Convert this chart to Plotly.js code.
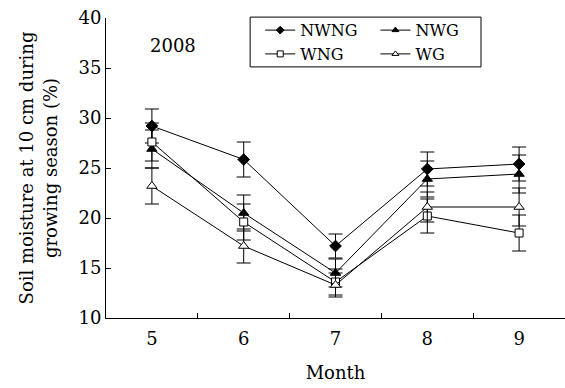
<!DOCTYPE html>
<html>
<head>
<meta charset="utf-8">
<script src="https://cdn.plot.ly/plotly-3.0.1.min.js"></script>
<style>html,body{margin:0;padding:0;background:#fff;}#chart{width:565px;height:388px;}</style>
</head>
<body>
<div id="chart"></div>
<script>
const months = ["5", "6", "7", "8", "9"];
const nwng = [29.2, 25.85, 17.2, 24.9, 25.4];
const nwngErr = [1.7, 1.75, 1.2, 1.7, 1.7];
const nwg = [26.9, 20.5, 14.5, 23.9, 24.4];
const nwgErr = [1.9, 1.8, 1.4, 1.8, 1.9];
const wng = [27.6, 19.6, 13.6, 20.2, 18.5];
const wngErr = [1.9, 1.8, 1.3, 1.7, 1.8];
const wg = [23.2, 17.2, 13.3, 21.1, 21.1];
const wgErr = [1.8, 1.7, 1.2, 1.5, 1.9];

const FONT = "DejaVu Serif, Liberation Serif, serif";

const series = [
  {name: "NWNG", y: nwng, err: nwngErr, symbol: "diamond", fill: "#000", size: 9, legend: "legend"},
  {name: "NWG", y: nwg, err: nwgErr, symbol: "triangle-up", fill: "#000", size: 9, legend: "legend2"},
  {name: "WNG", y: wng, err: wngErr, symbol: "square", fill: "#fff", size: 8, legend: "legend"},
  {name: "WG", y: wg, err: wgErr, symbol: "triangle-up", fill: "#fff", size: 9, legend: "legend2"}
];

const data = [];
series.forEach(s => {
  data.push({
    type: "scatter", mode: "lines+markers", name: s.name,
    x: months, y: s.y, showlegend: false,
    line: {color: "#000", width: 1},
    marker: {symbol: s.symbol, size: s.size, color: s.fill, line: {color: "#000", width: 1}},
    error_y: {type: "data", array: s.err, visible: true, color: "#000", thickness: 1, width: 7}
  });
});
// legend entries (smaller symbols, as in the reference key)
series.forEach(s => {
  data.push({
    type: "scatter", mode: "lines+markers", name: s.name,
    x: [null], y: [null], legend: s.legend, showlegend: true,
    line: {color: "#000", width: 1},
    marker: {symbol: s.symbol, size: 6, color: s.fill, line: {color: "#000", width: 1}}
  });
});

const legendCommon = {
  font: {family: FONT, size: 16, color: "#000"},
  bgcolor: "rgba(0,0,0,0)", borderwidth: 0,
  xanchor: "left", yanchor: "top", tracegroupgap: 0
};

const layout = {
  width: 565, height: 388,
  margin: {l: 106, r: 0, t: 18, b: 70},
  paper_bgcolor: "#fff", plot_bgcolor: "#fff",
  font: {family: FONT, size: 18, color: "#000"},
  showlegend: true,
  legend: Object.assign({x: 0.336, y: 1.016}, legendCommon),
  legend2: Object.assign({x: 0.587, y: 1.016}, legendCommon),
  xaxis: {
    type: "category", range: [-0.5, 4.5],
    showline: true, linecolor: "#000", linewidth: 1,
    showgrid: false, zeroline: false,
    ticks: "inside", ticklen: 5, tickcolor: "#000", tickson: "boundaries",
    ticklabelstandoff: 4,
    tickfont: {family: FONT, size: 18},
    title: {text: "Month", font: {family: FONT, size: 18}, standoff: 18}
  },
  yaxis: {
    range: [10, 40], dtick: 5, tick0: 10,
    showline: true, linecolor: "#000", linewidth: 1,
    showgrid: false, zeroline: false,
    ticks: "inside", ticklen: 5, tickcolor: "#000",
    tickfont: {family: FONT, size: 18},
    title: {text: "Soil moisture at 10 cm during<br>growing season (%)", font: {family: FONT, size: 18}, standoff: 16}
  },
  shapes: [{
    type: "rect", xref: "paper", yref: "paper",
    x0: 0.314, x1: 0.817, y0: 0.837, y1: 1.003,
    line: {color: "#000", width: 1}, fillcolor: "rgba(0,0,0,0)"
  }],
  annotations: [{
    text: "2008", xref: "paper", yref: "paper", x: 0.146, y: 0.907,
    xanchor: "center", yanchor: "middle",
    showarrow: false, font: {family: FONT, size: 18, color: "#000"}
  }]
};

Plotly.newPlot("chart", data, layout, {displayModeBar: false, staticPlot: true});
</script>
</body>
</html>
